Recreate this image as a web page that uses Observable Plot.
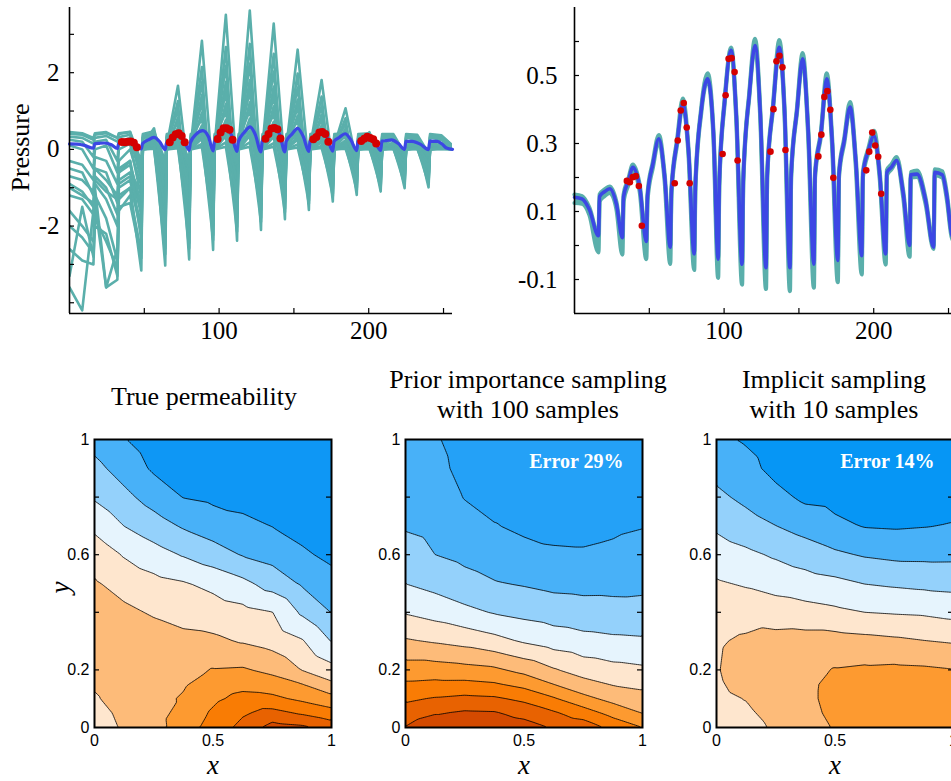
<!DOCTYPE html>
<html><head><meta charset="utf-8">
<script src="https://cdn.jsdelivr.net/npm/d3@7"></script>
<script src="https://cdn.jsdelivr.net/npm/@observablehq/plot@0.6"></script>
<style>
html,body{margin:0;padding:0;background:#fff;overflow:hidden}
#fig{position:relative;width:951px;height:781px;overflow:hidden;background:#fff}
#fig svg{overflow:visible}
.title{position:absolute;font-family:"Liberation Serif","Times New Roman",serif;font-size:26px;line-height:30px;text-align:center;color:#000;white-space:nowrap}
</style></head><body>
<div id="fig">
<div class="title" style="left:54px;top:382px;width:300px">True permeability</div>
<div class="title" style="left:378px;top:365px;width:300px">Prior importance sampling<br>with 100 samples</div>
<div class="title" style="left:684px;top:365px;width:300px">Implicit sampling<br>with 10 samples</div>
</div>
<script>
// ---------------- data: pressure traces ----------------
const blueT = [0,5,10,16, 16.8,20,23.6,28,32, 32.8,36,39,43.6,48, 48.8,52.4,56.4,60.2,64, 64.8,68.7,72.4,76.2,80, 80.8,84.7,89,92.9,96, 96.8,100.4,104.7,108.2,112, 112.8,116.9,120.7,124.2,128, 128.8,132.7,136.9,140.4,144, 144.8,148.7,152.5,156.2,160, 160.8,164.7,168.6,172.2,176, 176.8,180.3,184.2,188,192, 192.8,196.4,200.2,204,208, 208.8,211.8,215.3,219.8,224, 224.8,229,234.7,240, 240.8,245.8,249,252,256];
const blueP = [0.142,0.137,0.105,0.029, 0.144,0.158,0.167,0.122,0.023, 0.143,0.19,0.230,0.171,0.012, 0.146,0.24,0.314,0.205,-0.005, 0.161,0.309,0.417,0.279,-0.025, 0.176,0.397,0.49,0.328,-0.04, 0.186,0.426,0.574,0.377,-0.055, 0.191,0.446,0.588,0.387,-0.065, 0.206,0.407,0.583,0.397,-0.065, 0.206,0.397,0.549,0.338,-0.055, 0.21,0.328,0.49,0.309,-0.044, 0.21,0.309,0.407,0.25,-0.03, 0.21,0.279,0.323,0.21,-0.025, 0.215,0.23,0.25,0.151,0.0, 0.208,0.21,0.132,-0.005, 0.215,0.208,0.142,0.035,0.0];
const postLoP = [0.125,0.123,0.09,-0.02, 0.13,0.145,0.155,0.108,-0.027, 0.13,0.178,0.22,0.158,-0.04, 0.134,0.23,0.307,0.193,-0.054, 0.152,0.302,0.412,0.268,-0.072, 0.168,0.39,0.487,0.315,-0.095, 0.18,0.42,0.571,0.363,-0.115, 0.185,0.442,0.586,0.373,-0.128, 0.2,0.402,0.581,0.383,-0.134, 0.2,0.392,0.546,0.323,-0.124, 0.202,0.322,0.487,0.293,-0.108, 0.202,0.302,0.402,0.235,-0.085, 0.202,0.272,0.319,0.198,-0.056, 0.207,0.224,0.246,0.14,-0.033, 0.2,0.202,0.122,-0.01, 0.207,0.2,0.132,0.027,-0.005];
const postHiP = [0.15,0.145,0.111,0.03, 0.15,0.164,0.173,0.128,0.025, 0.149,0.196,0.238,0.177,0.014, 0.152,0.246,0.325,0.211,0.0, 0.167,0.315,0.432,0.285,-0.02, 0.182,0.403,0.506,0.334,-0.035, 0.192,0.432,0.582,0.383,-0.05, 0.197,0.452,0.608,0.393,-0.06, 0.212,0.413,0.604,0.403,-0.06, 0.212,0.403,0.566,0.344,-0.05, 0.216,0.334,0.506,0.315,-0.04, 0.216,0.315,0.422,0.256,-0.025, 0.216,0.285,0.337,0.216,-0.02, 0.221,0.238,0.26,0.157,0.005, 0.216,0.22,0.138,0.0, 0.224,0.218,0.148,0.04,0.005];
const obsT = [35,37,39,41,43,45, 67,69,71,73,75,77, 99,101,103,105,107,109, 131,133,135,137,139,141, 163,165,167,169,171,173, 195,197,199,201,203,205];
const obsP = [0.190,0.186,0.201,0.204,0.175,0.058, 0.183,0.309,0.397,0.419,0.347,0.183, 0.269,0.442,0.549,0.551,0.510,0.250, 0.276,0.401,0.542,0.558,0.524,0.281, 0.262,0.326,0.437,0.454,0.399,0.199, 0.221,0.276,0.332,0.294,0.261,0.152];

// prior ensemble (top-left): early wiggles, then per-cycle trough / jump level / peak
const earlyX = [0, 8.5, 16, 17, 24.5, 32, 33, 40.5];
const troughX = [48, 64, 80, 96, 112, 128, 144, 160, 176, 192, 208, 224, 240];
const jumpX = [49, 65, 81, 97, 113, 129, 145, 161, 177, 193, 209, 225, 241];
const peakX = [56.5, 72.5, 88.5, 104.5, 120.5, 136.5, 152.5, 168.5, 184.5, 200.5, 216.5, 232.5, 248.5];
const priorBase = [0.10, 0.05, 0.15, 0.00, 0.20, 0.05, 0.30, 0.00, 0.10, 0.02, 0.00, 0.35, 0.00, 0.40, 0.00, 0.30];
const priorEnd = [0.02, 0, 0.05, 0, 0.05, 0, 0.08, 0, 0.03, 0, 0, 0.1, 0, 0.1, 0, 0.08];
const priorEarly = [
  [-0.3,-0.4,-0.8,-0.2,-0.3,-0.9,-0.3,0.0],
  [-3.6,-4.2,-1.6,-1.0,-3.6,-3.4,-1.2,-1.0],
  [-0.5,-0.6,-1.2,-0.5,-0.6,-1.4,-0.6,-0.3],
  [-2.6,-2.9,-3.0,-1.8,-2.4,-3.1,-1.6,-1.2],
  [0.1,0.0,-0.5,0.0,0.1,-0.6,0.0,0.15],
  [-2.0,-2.3,-2.7,-1.4,-3.6,-2.6,-1.0,-0.8],
  [0.25,0.2,-0.2,0.2,0.25,-0.3,0.2,0.3],
  [-1.6,-2.0,-2.4,-1.2,-1.8,-2.9,-1.3,-1.0],
  [-0.9,-1.1,-1.5,-0.7,-1.0,-1.7,-0.6,-0.4],
  [-1.2,-1.3,-1.7,-0.9,-1.3,-2.0,-0.8,-0.6],
  [-3.3,-1.5,-2.8,-2.0,-2.2,-3.3,-1.5,-1.4],
  [0.4,0.38,0.25,0.38,0.42,0.3,0.4,0.45],
  [-1.0,-1.2,-1.4,-0.8,-1.1,-1.3,-0.9,-0.7],
  [0.45,0.42,0.3,0.42,0.45,0.3,0.42,0.46],
  [-0.7,-0.8,-1.1,-0.5,-0.8,-1.2,-0.5,-0.3],
  [0.33,0.3,0.15,0.3,0.35,0.2,0.32,0.38]
];
const priorPeaks = [
  [0.55,1.66,2.83,3.51,3.62,3.28,2.60,1.81,1.07,0.45,0.38,0.33,0.32],
  [0.45,1.26,2.15,2.67,2.75,2.49,1.98,1.38,0.81,0.34,0.30,0.27,0.26],
  [0.40,1.03,1.75,2.18,2.24,2.03,1.61,1.12,0.66,0.40,0.36,0.33,0.30],
  [0.30,0.83,1.42,1.76,1.81,1.64,1.30,0.91,0.54,0.23,0.20,0.18,0.17],
  [0.38,0.70,1.19,1.47,1.52,1.38,1.09,0.76,0.45,0.35,0.30,0.28,0.27],
  [0.20,0.56,0.96,1.19,1.23,1.12,0.88,0.62,0.36,0.15,0.14,0.12,0.12],
  [0.40,0.46,0.79,0.98,1.01,0.92,0.73,0.51,0.40,0.38,0.36,0.34,0.33],
  [0.15,0.37,0.62,0.77,0.80,0.72,0.57,0.40,0.24,0.10,0.09,0.08,0.08],
  [0.20,0.28,0.48,0.60,0.62,0.56,0.44,0.31,0.18,0.15,0.14,0.13,0.12],
  [0.10,0.22,0.37,0.46,0.47,0.43,0.34,0.24,0.14,0.06,0.05,0.05,0.05],
  [0.05,0.17,0.28,0.35,0.36,0.33,0.26,0.18,0.11,0.05,0.04,0.04,0.04],
  [0.42,0.40,0.42,0.45,0.45,0.44,0.42,0.40,0.38,0.37,0.36,0.35,0.35],
  [0.05,0.08,0.14,0.18,0.18,0.16,0.13,0.09,0.05,0.02,0.02,0.02,0.02],
  [0.47,0.45,0.46,0.47,0.47,0.46,0.45,0.44,0.42,0.42,0.40,0.38,0.37],
  [0.02,0.03,0.06,0.07,0.07,0.07,0.05,0.04,0.02,0.01,0.01,0.01,0.01],
  [0.35,0.32,0.33,0.34,0.34,0.33,0.32,0.32,0.31,0.31,0.30,0.30,0.30]
];
const priorTroughs = [
  [-0.95,-0.91,-0.86,-0.79,-0.71,-0.63,-0.55,-0.47,-0.41,-0.36,-0.33,-0.30,-0.30],
  [-3.16,-3.03,-2.87,-2.62,-2.38,-2.10,-1.82,-1.58,-1.36,-1.19,-1.10,-1.01,-0.99],
  [-1.74,-1.67,-1.58,-1.44,-1.31,-1.16,-1.00,-0.87,-0.75,-0.65,-0.61,-0.56,-0.54],
  [-2.69,-2.58,-2.44,-2.23,-2.02,-1.79,-1.55,-1.34,-1.16,-1.01,-0.94,-0.86,-0.84],
  [-1.26,-1.21,-1.15,-1.05,-0.95,-0.84,-0.73,-0.63,-0.54,-0.48,-0.44,-0.40,-0.40],
  [-2.21,-2.12,-2.01,-1.83,-1.67,-1.47,-1.27,-1.11,-0.95,-0.83,-0.77,-0.71,-0.69],
  [-0.79,-0.76,-0.72,-0.66,-0.60,-0.53,-0.46,-0.40,-0.34,-0.30,-0.28,-0.25,-0.25],
  [-1.90,-1.82,-1.72,-1.57,-1.43,-1.26,-1.09,-0.95,-0.82,-0.71,-0.66,-0.61,-0.59],
  [-1.42,-1.36,-1.29,-1.18,-1.07,-0.95,-0.82,-0.71,-0.61,-0.54,-0.50,-0.45,-0.45],
  [-1.11,-1.06,-1.00,-0.92,-0.83,-0.74,-0.64,-0.55,-0.48,-0.42,-0.39,-0.35,-0.35],
  [-2.84,-2.73,-2.58,-2.36,-2.14,-1.89,-1.64,-1.42,-1.22,-1.07,-0.99,-0.91,-0.89],
  [-0.63,-0.61,-0.57,-0.52,-0.48,-0.42,-0.36,-0.32,-0.27,-0.24,-0.22,-0.20,-0.20],
  [-1.58,-1.52,-1.44,-1.31,-1.19,-1.05,-0.91,-0.79,-0.68,-0.60,-0.55,-0.51,-0.50],
  [-0.32,-0.30,-0.29,-0.26,-0.24,-0.21,-0.18,-0.16,-0.14,-0.12,-0.11,-0.10,-0.10],
  [-2.37,-2.27,-2.15,-1.97,-1.79,-1.58,-1.37,-1.19,-1.02,-0.89,-0.83,-0.76,-0.74],
  [-0.47,-0.45,-0.43,-0.39,-0.36,-0.32,-0.27,-0.24,-0.20,-0.18,-0.17,-0.15,-0.15]
];

// axis ticks
const leftYTicks = [-4,-3,-2,-1,0,1,2,3];
const leftYLabels = [-2,0,2];
const timeTicks = [50,100,150,200,250];
const timeLabels = [100,200];
const rightYTicks = [-0.1,0,0.1,0.2,0.3,0.4,0.5,0.6];
const rightYLabels = [-0.1,0.1,0.3,0.5];
const unitTicks = [0.2,0.4,0.6,0.8];
const unitYLabels = [0,0.2,0.6,1];
const unitXLabels = [0,0.5,1];

// ---------------- data: permeability fields ----------------
const gridX = [0,0.125,0.25,0.375,0.5,0.625,0.75,0.875,1];
const gridY = [0,0.05,0.1,0.15,0.2,0.3,0.4,0.5,0.6,0.7,0.8,0.9,1];
const levels = [1,2,3,4,5,6,7,8,9];
const trueZ = [
  [5.4,4.9,4.4,3.5,2.6,1.7,0.6,0.8,1.4],
  [5.3,4.8,4.35,3.7,2.85,2.12,1.67,2.12,2.62],
  [5.1,4.6,4.3,3.9,3.2,2.7,2.77,3.2,3.65],
  [4.9,4.5,4.3,4.1,3.55,3.3,3.53,3.97,4.8],
  [4.7,4.45,4.35,4.3,3.95,3.89,4.26,5.03,5.67],
  [4.6,4.5,4.55,4.75,4.82,5.08,5.37,5.91,7.04],
  [4.75,4.8,5.1,5.33,5.5,5.71,5.98,7.15,8.03],
  [4.9,5.35,5.69,5.92,6.27,6.74,7.42,8.11,8.67],
  [5.37,6.08,6.59,7.08,7.56,8.06,8.34,8.86,9.2],
  [6.25,7.01,7.56,8.11,8.5,8.77,9.02,9.3,9.5],
  [7.11,7.75,8.41,9.03,9.2,9.3,9.4,9.6,9.7],
  [7.73,8.4,9.15,9.4,9.5,9.6,9.7,9.8,9.9],
  [8.35,8.95,9.5,9.7,9.7,9.8,9.9,10,10]
];
const priorZ = [
  [0.95,0.2,0.3,0.3,0.55,1.1,1.4,2.3,3.0],
  [1.57,1.08,0.85,0.9,1.33,1.86,2.5,3.33,4.02],
  [2.16,1.92,1.76,1.85,2.22,2.89,3.7,4.31,4.64],
  [2.85,2.75,2.74,2.89,3.3,4.0,4.65,5.06,5.24],
  [3.54,3.54,3.67,3.82,4.29,4.91,5.43,5.69,5.83],
  [4.89,5.1,5.33,5.67,6.11,6.46,6.69,6.81,6.87],
  [6.08,6.39,6.75,7.07,7.29,7.48,7.59,7.65,7.67],
  [7.01,7.31,7.67,7.94,8.08,8.25,8.3,8.29,8.23],
  [7.62,8.0,8.24,8.46,8.68,8.88,8.91,8.82,8.64],
  [8.09,8.25,8.64,8.95,9.2,9.25,9.25,9.15,9.04],
  [8.35,8.5,9.04,9.35,9.45,9.5,9.45,9.35,9.2],
  [8.6,8.7,9.3,9.5,9.6,9.6,9.55,9.45,9.3],
  [8.85,8.9,9.4,9.6,9.7,9.7,9.6,9.5,9.35]
];
const implicitZ = [
  [5.4,5.25,4.9,4.3,3.95,3.6,3.45,3.4,3.4],
  [5.3,5.15,4.7,4.2,3.85,3.55,3.45,3.4,3.4],
  [5.2,4.97,4.5,4.15,3.8,3.55,3.45,3.42,3.45],
  [5.1,4.75,4.4,4.15,3.82,3.62,3.55,3.55,3.6],
  [5.05,4.65,4.35,4.25,3.95,3.85,3.8,3.85,3.97],
  [5.1,4.85,4.65,4.6,4.6,4.7,4.82,4.97,5.09],
  [5.5,5.4,5.53,5.64,5.8,6.0,6.08,6.14,6.31],
  [5.9,6.1,6.34,6.57,6.75,7.02,7.14,7.24,7.31],
  [6.5,6.79,7.13,7.47,7.83,8.09,8.23,8.24,8.23],
  [7.17,7.6,7.99,8.38,8.79,9.05,9.1,9.04,8.95],
  [7.79,8.23,8.7,9.2,9.3,9.4,9.45,9.4,9.35],
  [8.32,8.68,9.3,9.5,9.6,9.65,9.7,9.65,9.6],
  [8.8,9.1,9.5,9.7,9.75,9.8,9.85,9.8,9.75]
];
const trueColors = ["#d44a00","#e86201","#f97c04","#fd9a30","#fdbb79","#fee6ce","#e6f4fd","#94d1fb","#48b1f8","#0e97f5"];
const priorColors = ["#d44a00","#e86201","#f97c04","#fd9a30","#fdbb79","#fee6ce","#e6f4fd","#94d1fb","#48b1f8","#24a1f7"];
const implicitColors = ["#d44a00","#e86201","#f97c04","#fd9a30","#fdbb79","#fee6ce","#e6f4fd","#94d1fb","#48b1f8","#0696f5"];

// ---------------- build tables ----------------
const TEAL = "#5aafab", BLUE = "#3c47e4", RED = "#d40000";
const serif = '"Liberation Serif","Times New Roman",serif';
const sans = '"Liberation Sans",Arial,Helvetica,sans-serif';
const fig = document.getElementById("fig");
function place(node, left, top) {
  node.style.position = "absolute"; node.style.left = left + "px"; node.style.top = top + "px";
  fig.appendChild(node);
}
const blueRows = blueT.map((t, i) => ({t, p: blueP[i]}));
const postRows = blueT.flatMap((t, i) => [{m: "lo", t, p: postLoP[i]}, {m: "hi", t, p: postHiP[i]}]);
const bandRows = blueT.map((t, i) => ({t, lo: postLoP[i], hi: postHiP[i]}));
const obsRows = obsT.map((t, i) => ({t, p: obsP[i]}));
const priorRows = [];
priorBase.forEach((b, k) => {
  earlyX.forEach((t, j) => priorRows.push({m: k, t, p: priorEarly[k][j]}));
  troughX.forEach((t, c) => {
    priorRows.push({m: k, t, p: priorTroughs[k][c]});
    priorRows.push({m: k, t: jumpX[c], p: b});
    priorRows.push({m: k, t: peakX[c], p: priorPeaks[k][c]});
  });
  priorRows.push({m: k, t: 256, p: priorEnd[k]});
});

// ---------------- top left ----------------
const tlW = 470, tlH = 350, tlML = 69, tlMR = 18, tlMT = 7, tlMB = 37;
const tlFW = tlW - tlML - tlMR, tlFH = tlH - tlMT - tlMB;
place(Plot.plot({
  width: tlW, height: tlH, marginLeft: tlML, marginRight: tlMR, marginTop: tlMT, marginBottom: tlMB,
  style: {background: "transparent", fontFamily: serif},
  x: {domain: [0, 256], label: null},
  y: {domain: [-4.28, 3.7], label: null},
  marks: [
    Plot.line(priorRows, {x: "t", y: "p", z: "m", stroke: TEAL, strokeWidth: 2.6, clip: true}),
    Plot.line(blueRows, {x: "t", y: "p", stroke: BLUE, strokeWidth: 3.2, curve: "monotone-x"}),
    Plot.dot(obsRows, {x: "t", y: "p", r: 4, fill: RED}),
    Plot.tickY(leftYTicks, {y: d => d, insetRight: tlFW - 5, stroke: "#000", strokeWidth: 1.2}),
    Plot.tickX(timeTicks, {x: d => d, insetTop: tlFH - 5, stroke: "#000", strokeWidth: 1.2}),
    Plot.ruleX([0], {stroke: "#000", strokeWidth: 1.6}),
    Plot.ruleY([-4.28], {stroke: "#000", strokeWidth: 1.6}),
    Plot.axisY(leftYLabels, {tickSize: 0, tickPadding: 10, fontSize: 25, fontFamily: serif, tickFormat: d => String(d)}),
    Plot.axisX(timeLabels, {tickSize: 0, tickPadding: 8, fontSize: 25, fontFamily: serif, tickFormat: d => String(d)}),
    Plot.text(["Pressure"], {frameAnchor: "left", dx: -49, dy: -13, rotate: -90, textAnchor: "middle", lineAnchor: "middle", fontSize: 26, fontFamily: serif, fill: "#000"})
  ]
}), 0, 0);

// ---------------- top right ----------------
const trW = 480, trH = 350, trML = 94, trMR = 3, trMT = 7, trMB = 37;
const trFW = trW - trML - trMR, trFH = trH - trMT - trMB;
place(Plot.plot({
  width: trW, height: trH, marginLeft: trML, marginRight: trMR, marginTop: trMT, marginBottom: trMB,
  style: {background: "transparent", fontFamily: serif},
  x: {domain: [0, 256], label: null},
  y: {domain: [-0.2, 0.7], label: null},
  marks: [
    Plot.areaY(bandRows, {x: "t", y1: "lo", y2: "hi", fill: TEAL, curve: "monotone-x"}),
    Plot.line(postRows, {x: "t", y: "p", z: "m", stroke: TEAL, strokeWidth: 4.2, curve: "monotone-x"}),
    Plot.line(blueRows, {x: "t", y: "p", stroke: BLUE, strokeWidth: 3.6, curve: "monotone-x"}),
    Plot.dot(obsRows, {x: "t", y: "p", r: 3.3, fill: RED}),
    Plot.tickY(rightYTicks, {y: d => d, insetRight: trFW - 5, stroke: "#000", strokeWidth: 1.2}),
    Plot.tickX(timeTicks, {x: d => d, insetTop: trFH - 5, stroke: "#000", strokeWidth: 1.2}),
    Plot.ruleX([0], {stroke: "#000", strokeWidth: 1.6}),
    Plot.ruleY([-0.2], {stroke: "#000", strokeWidth: 1.6}),
    Plot.axisY(rightYLabels, {tickSize: 0, tickPadding: 17, fontSize: 25, fontFamily: serif, tickFormat: d => d.toFixed(1)}),
    Plot.axisX(timeLabels, {tickSize: 0, tickPadding: 8, fontSize: 25, fontFamily: serif, tickFormat: d => String(d)})
  ]
}), 480, 0);

// ---------------- bottom contour panels ----------------
function field(Z) {
  const rows = [];
  gridY.forEach((y, j) => gridX.forEach((x, i) => rows.push({x, y, z: Z[j][i]})));
  return rows;
}
function contourPanel({Z, colors, width, marginLeft, marginRight, error, yLabel}) {
  const fw = width - marginLeft - marginRight;
  const marks = [
    Plot.frame({fill: colors[0]}),
    Plot.contour(field(Z), {x: "x", y: "y", value: "z", fill: "value", stroke: "#000", strokeWidth: 0.8,
      thresholds: levels, interpolate: "barycentric", x1: 0, y1: 0, x2: 1, y2: 1}),
    Plot.tickY(unitTicks, {y: d => d, insetRight: fw - 5, stroke: "#000", strokeWidth: 1.2}),
    Plot.tickY(unitTicks, {y: d => d, insetLeft: fw - 5, stroke: "#000", strokeWidth: 1.2}),
    Plot.frame({stroke: "#000", strokeWidth: 2}),
    Plot.axisY(unitYLabels, {tickSize: 0, tickPadding: 5, fontSize: 16, fontFamily: sans, tickFormat: d => String(d)}),
    Plot.axisX(unitXLabels, {tickSize: 0, tickPadding: 7, fontSize: 16, fontFamily: sans, tickFormat: d => String(d)}),
    Plot.text(["x"], {frameAnchor: "bottom", dy: 38, textAnchor: "middle", lineAnchor: "middle", fontSize: 27, fontStyle: "italic", fontFamily: serif, fill: "#000"})
  ];
  if (error) marks.push(Plot.text([error], {frameAnchor: "top-right", dx: -19, dy: 22, textAnchor: "end", lineAnchor: "middle", fill: "#fff", fontWeight: "bold", fontSize: 20, fontFamily: serif}));
  if (yLabel) marks.push(Plot.text(["y"], {frameAnchor: "left", dx: -34, dy: 4, rotate: -90, textAnchor: "middle", lineAnchor: "middle", fontSize: 27, fontStyle: "italic", fontFamily: serif, fill: "#000"}));
  return Plot.plot({
    width, height: 421, marginLeft, marginRight, marginTop: 79, marginBottom: 54,
    style: {background: "transparent", fontFamily: sans, fontSize: "16px", overflow: "visible"},
    x: {domain: [0, 1], label: null},
    y: {domain: [0, 1], label: null},
    color: {type: "ordinal", domain: levels, range: colors.slice(1)},
    marks
  });
}
place(contourPanel({Z: trueZ, colors: trueColors, width: 340, marginLeft: 94, marginRight: 9, yLabel: true}), 0, 360);
place(contourPanel({Z: priorZ, colors: priorColors, width: 320, marginLeft: 65, marginRight: 18, error: "Error 29%"}), 340, 360);
place(contourPanel({Z: implicitZ, colors: implicitColors, width: 300, marginLeft: 56, marginRight: 7, error: "Error 14%"}), 660, 360);
</script></body></html>
